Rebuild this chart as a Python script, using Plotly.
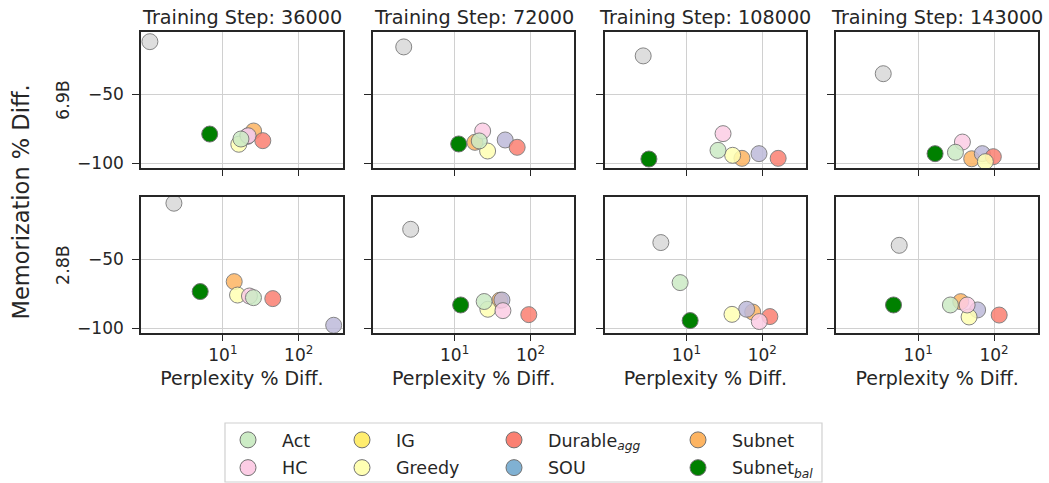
import plotly.graph_objects as go
from plotly.subplots import make_subplots

# ---------------- data ----------------
steps = [36000, 72000, 108000, 143000]
models = ["6.9B", "2.8B"]

methods = ["Act", "HC", "IG", "Greedy", "Durable<sub><i>agg</i></sub>", "SOU", "Subnet", "Subnet<sub><i>bal</i></sub>"]

# per method: 8 values -> (6.9B: steps 1..4), (2.8B: steps 1..4)
act_x = [17.3, 21.1, 26.1, 31.0, 25.3, 24.5, 8.26, 26.6]
act_y = [-82.4, -83.8, -90.6, -92.0, -77.8, -80.6, -66.9, -83.1]
hc_x = [21.5, 23.4, 30.4, 38.3, 22.4, 43.3, 91.4, 44.2]
hc_y = [-80.0, -76.6, -78.5, -84.6, -76.6, -87.2, -95.1, -83.1]
ig_x = [1.09, 2.13, 2.69, 3.46, 2.26, 2.63, 4.6, 5.62]
ig_y = [-11.9, -15.7, -22.2, -35.1, -9.4, -28.3, -37.9, -39.9]
greedy_x = [16.2, 27.2, 40.7, 76.9, 15.6, 27.4, 39.9, 46.9]
greedy_y = [-86.2, -91.1, -94.2, -98.8, -75.9, -86.2, -89.9, -91.8]
durable_x = [33.6, 66.7, 162.0, 97.9, 45.5, 95.0, 126.0, 117.0]
durable_y = [-83.6, -88.4, -96.4, -95.2, -78.5, -90.1, -91.5, -90.4]
sou_x = [21.0, 46.4, 90.6, 70.1, 289.0, 42.0, 62.3, 60.8]
sou_y = [-80.5, -83.1, -93.0, -93.0, -97.8, -79.5, -86.2, -86.7]
subnet_x = [25.4, 18.5, 54.0, 50.8, 14.1, 39.4, 74.8, 36.4]
subnet_y = [-76.6, -84.8, -96.4, -96.7, -66.2, -79.7, -88.2, -80.7]
subnetbal_x = [6.7, 11.3, 3.2, 16.7, 5.02, 12.0, 11.2, 4.73]
subnetbal_y = [-78.8, -86.0, -96.9, -93.0, -73.4, -83.1, -94.4, -83.1]

x_tickvals = [10, 100]
x_ticktext = ["10<sup>1</sup>", "10<sup>2</sup>"]
y_tickvals = [-50, -100]

series_x = [act_x, hc_x, ig_x, greedy_x, durable_x, sou_x, subnet_x, subnetbal_x]
series_y = [act_y, hc_y, ig_y, greedy_y, durable_y, sou_y, subnet_y, subnetbal_y]

# ---------------- styles ----------------
plot_colors = ["#ccebc5", "#fccde5", "#d9d9d9", "#ffffb3", "#fb8072", "#bebada", "#fdb462", "#008000"]
legend_colors = ["#ccebc5", "#fccde5", "#ffed6f", "#ffffb3", "#fb8072", "#80b1d3", "#fdb462", "#008000"]
draw_order = [7, 6, 5, 4, 3, 2, 1, 0]

FONT = "DejaVu Sans"
INK = "#262626"
W, H = 1049, 483
ML, MR, MT, MB = 141, 11, 32, 150
PW, PH = W - ML - MR, H - MT - MB


def px_x(px):
    return (px - ML) / PW


def px_y(py):
    return (H - MB - py) / PH


fig = make_subplots(
    rows=2, cols=4,
    horizontal_spacing=0.0335, vertical_spacing=0.0963,
    subplot_titles=[f"Training Step: {s}" for s in steps],
)

for r in range(2):
    for c in range(4):
        k = r * 4 + c
        for m in draw_order:
            fig.add_trace(
                go.Scatter(
                    x=[series_x[m][k]], y=[series_y[m][k]],
                    mode="markers",
                    marker=dict(size=16, color=plot_colors[m],
                                opacity=1.0 if m == 7 else 0.85,
                                line=dict(color="#707070", width=1)),
                    showlegend=False, hoverinfo="skip",
                ),
                row=r + 1, col=c + 1,
            )
        fig.update_xaxes(
            type="log", range=[-0.08, 2.58],
            tickvals=x_tickvals, ticktext=x_ticktext,
            showticklabels=(r == 1),
            row=r + 1, col=c + 1,
        )
        if r == 1:
            fig.update_xaxes(
                title=dict(text="Perplexity % Diff.",
                           font=dict(size=19, color=INK, family=FONT), standoff=7),
                row=r + 1, col=c + 1,
            )
        fig.update_yaxes(
            range=[-103.4, -4.9], tickvals=y_tickvals,
            showticklabels=(c == 0),
            row=r + 1, col=c + 1,
        )

fig.update_xaxes(ticks="outside", ticklen=6, tickwidth=1.4, tickcolor=INK,
                 showline=True, mirror=True, linecolor=INK, linewidth=1.6,
                 showgrid=True, gridcolor="#d0d0d0", gridwidth=1.4, zeroline=False,
                 tickfont=dict(size=17, color=INK, family=FONT))
fig.update_yaxes(ticks="outside", ticklen=7, tickwidth=1.4, tickcolor=INK,
                 showline=True, mirror=True, linecolor=INK, linewidth=1.6,
                 showgrid=True, gridcolor="#d0d0d0", gridwidth=1.4, zeroline=False,
                 ticklabelstandoff=5,
                 tickfont=dict(size=17, color=INK, family=FONT))

for a in fig.layout.annotations:
    a.font = dict(size=19.2, color=INK, family=FONT)
    a.yshift = 1

# row labels and y title
row_centers = [(fig.layout.yaxis.domain[0] + fig.layout.yaxis.domain[1]) / 2,
               (fig.layout.yaxis5.domain[0] + fig.layout.yaxis5.domain[1]) / 2]
for name, yc in zip(models, row_centers):
    fig.add_annotation(text=name, xref="paper", yref="paper", x=px_x(63), y=yc,
                       textangle=-90, showarrow=False, xanchor="center", yanchor="middle",
                       font=dict(size=17.5, color=INK, family=FONT))
fig.add_annotation(text="Memorization % Diff.", xref="paper", yref="paper",
                   x=px_x(20), y=px_y(201.5), textangle=-90, showarrow=False,
                   xanchor="center", yanchor="middle",
                   font=dict(size=22.5, color=INK, family=FONT))

# legend (4 columns, each its own legend)
legend_cols = [[0, 1], [2, 3], [4, 5], [6, 7]]
col_text_px = [282, 396, 548, 732]
legend_names = ["legend", "legend2", "legend3", "legend4"]
for li, (items, tx) in enumerate(zip(legend_cols, col_text_px)):
    for m in items:
        fig.add_trace(go.Scatter(
            x=[None], y=[None], mode="markers", name=methods[m],
            marker=dict(size=16, color=legend_colors[m], line=dict(color="#707070", width=1)),
            legend=legend_names[li], showlegend=True, legendgroup=f"g{m}",
        ))
    fig.update_layout({legend_names[li]: dict(
        x=px_x(tx - 68), y=px_y(422), xanchor="left", yanchor="top",
        orientation="v", bgcolor="rgba(0,0,0,0)", borderwidth=0,
        itemwidth=58, tracegroupgap=2,
        font=dict(size=17.5, color=INK, family=FONT),
    )})

fig.add_shape(type="rect", xref="paper", yref="paper",
              x0=px_x(225), x1=px_x(822), y0=px_y(482), y1=px_y(423),
              line=dict(color="#d0d0d0", width=1.2), fillcolor="rgba(0,0,0,0)")

fig.update_layout(
    width=W, height=H,
    margin=dict(l=ML, r=MR, t=MT, b=MB, autoexpand=False),
    paper_bgcolor="white", plot_bgcolor="white",
    font=dict(family=FONT, color=INK),
)

fig.write_html("out.html", config={"displayModeBar": False},
               post_script="document.body.style.margin='0px';document.body.style.overflow='hidden';")
